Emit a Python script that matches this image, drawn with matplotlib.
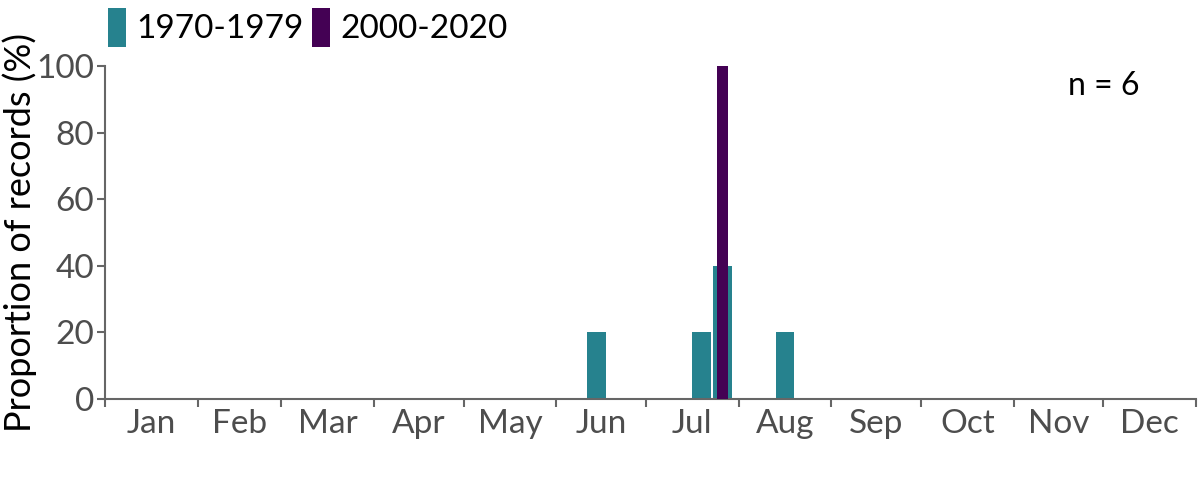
import matplotlib
matplotlib.use("Agg")
import matplotlib.pyplot as plt
from matplotlib.patches import Patch

# Data: week-of-year bins (week index, 0-based, 7-day bins from Jan 1) and % of records
weeks_1970 = [23, 28, 29, 32]
vals_1970 = [20, 20, 40, 20]
weeks_2000 = [29]
vals_2000 = [100]
labels = ["1970-1979", "2000-2020"]
months = ["Jan", "Feb", "Mar", "Apr", "May", "Jun", "Jul", "Aug", "Sep", "Oct", "Nov", "Dec"]
month_days = [31, 28, 31, 30, 31, 30, 31, 31, 30, 31, 30, 31]
y_ticks = [0, 20, 40, 60, 80, 100]
n_text = "n = 6"

plt.rcParams['font.family'] = ['Lato', 'DejaVu Sans']

c1 = "#26828E"
c2 = "#440154"
axis_grey = "#666666"
label_grey = "#4d4d4d"

fig = plt.figure(figsize=(12, 4.8), dpi=100)
ax = fig.add_axes([105/1200, 1-399/480, (1196-105)/1200, (399-66)/480])

x1 = [w*7 + 3.5 for w in weeks_1970]
x2 = [w*7 + 3.5 for w in weeks_2000]
ax.bar(x1, vals_1970, width=6.3, color=c1, label=labels[0], zorder=2)
ax.bar(x2, vals_2000, width=3.7, color=c2, label=labels[1], zorder=3)

bounds = [0]
for d in month_days:
    bounds.append(bounds[-1] + d)
mids = [(bounds[i] + bounds[i+1]) / 2 for i in range(12)]

ax.set_xlim(0, 365)
ax.set_ylim(0, 100)
ax.set_xticks(bounds)
ax.set_xticklabels([])
ax.set_xticks(mids, minor=True)
ax.set_xticklabels(months, minor=True)
ax.tick_params(axis='x', which='major', direction='out', length=6, width=1.5, color=axis_grey)
ax.tick_params(axis='x', which='minor', length=0, pad=7, labelsize=24, labelcolor=label_grey)
ax.set_yticks(y_ticks)
ax.tick_params(axis='y', direction='out', length=6, width=1.5, color=axis_grey, pad=2,
               labelsize=24, labelcolor=label_grey)

for s in ['top', 'right']:
    ax.spines[s].set_visible(False)
for s in ['left', 'bottom']:
    ax.spines[s].set_color(axis_grey)
    ax.spines[s].set_linewidth(1.5)

ax.set_ylabel("Proportion of records (%)", fontsize=26, color="black")
ax.yaxis.set_label_coords(-0.062, 0.5)

fig.text(1140/1200, 1-86/480, n_text, ha='right', va='center', fontsize=23, color='black')

handles = [Patch(facecolor=c1, edgecolor='none'), Patch(facecolor=c2, edgecolor='none')]
fig.legend(handles, labels, loc='upper left', bbox_to_anchor=(108/1200, 1-8/480), ncol=2,
           frameon=False, fontsize=24, handlelength=0.55, handleheight=1.4,
           handletextpad=0.3, columnspacing=0.25, borderaxespad=0, borderpad=0)

fig.savefig("out.png", dpi=100)
